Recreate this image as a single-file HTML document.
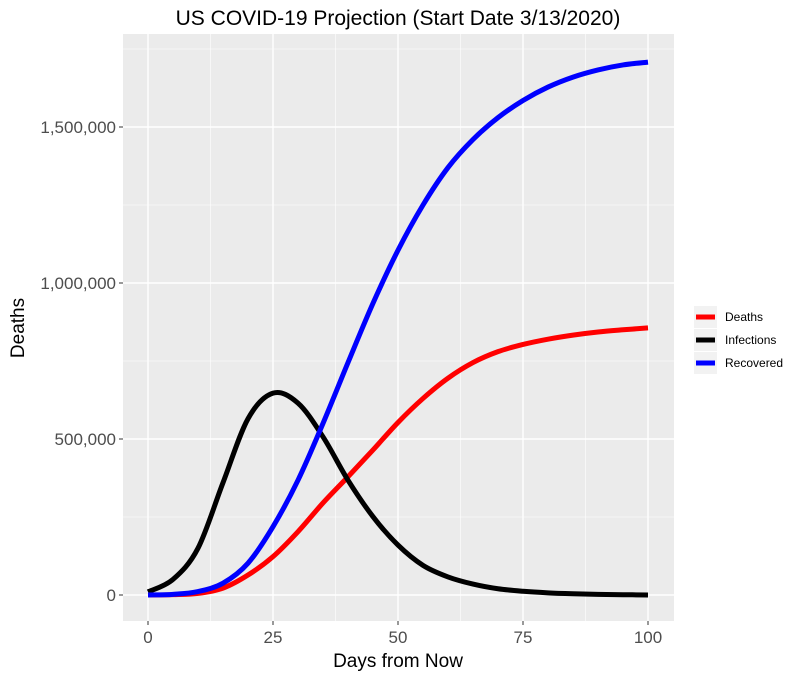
<!DOCTYPE html>
<html><head><meta charset="utf-8"><style>
body{margin:0;background:#fff;font-family:"Liberation Sans",Arial,sans-serif}
svg text{font-family:"Liberation Sans",Arial,sans-serif}
</style></head><body>
<svg id="chart" width="800" height="677">
<text x="398" y="25" text-anchor="middle" font-size="21" fill="#000">US COVID-19 Projection (Start Date 3/13/2020)</text>
<rect x="123" y="34" width="551" height="587" fill="#ebebeb"/>
<g id="grid"></g><g id="lines"></g><g id="axes"></g>
<text x="398" y="667" text-anchor="middle" font-size="19" fill="#000">Days from Now</text>
<text transform="translate(24,328) rotate(-90)" text-anchor="middle" font-size="19" fill="#000">Deaths</text>
<g id="legend"></g>
</svg>
<script>
const days=[0,5,10,15,20,25,30,35,40,45,50,55,60,65,70,75,80,85,90,95,100];
const deaths=[0,1000,5000,22000,64000,123000,203000,295000,379000,465000,553000,630000,695000,745000,780000,803000,820000,833000,843000,850000,856000];
const infections=[10000,50000,150000,360000,565000,647000,615000,507000,368000,251000,160000,95000,58000,35000,20000,12000,7000,4000,2000,1000,0];
const recovered=[0,2000,11000,38000,102000,219000,368000,550000,745000,935000,1105000,1250000,1370000,1460000,1530000,1585000,1628000,1660000,1683000,1699000,1708000];
const xTicks=[0,25,50,75,100];
const yTicks=[0,500000,1000000,1500000];
const yLabels=["0","500,000","1,000,000","1,500,000"];
const seriesNames=["Deaths","Infections","Recovered"];
const seriesColors=["#ff0000","#000000","#0000ff"];
const NS="http://www.w3.org/2000/svg";
const X=d=>148+d*5.0, Y=v=>595-v*156/500000;
function mk(tag,attrs,parent){const e=document.createElementNS(NS,tag);for(const k in attrs)e.setAttribute(k,attrs[k]);parent.appendChild(e);return e;}
function smooth(pts){let d='M'+pts[0][0]+','+pts[0][1];
 for(let i=0;i<pts.length-1;i++){const p0=pts[i-1]||pts[i],p1=pts[i],p2=pts[i+1],p3=pts[i+2]||p2;
  const c1=[p1[0]+(p2[0]-p0[0])/6,p1[1]+(p2[1]-p0[1])/6],c2=[p2[0]-(p3[0]-p1[0])/6,p2[1]-(p3[1]-p1[1])/6];
  d+='C'+c1+' '+c2+' '+p2;}return d;}
const grid=document.getElementById('grid'),axes=document.getElementById('axes'),lines=document.getElementById('lines');
for(let i=0;i<xTicks.length;i++){const x=X(xTicks[i]);
 const g=mk('line',{x1:x,x2:x,y1:34,y2:621,stroke:'#fff','stroke-width':1.4},grid);
 
 if(i<xTicks.length-1){const m=X((xTicks[i]+xTicks[i+1])/2);const mg=mk('line',{x1:m,x2:m,y1:34,y2:621,stroke:'#fff','stroke-width':0.6},grid);}
 mk('line',{x1:x,x2:x,y1:621,y2:625,stroke:'#333'},axes);
 const t=mk('text',{x:x,y:643,'text-anchor':'middle','font-size':17,fill:'#4d4d4d'},axes);t.textContent=xTicks[i];
 }
const minorY=[-250000,250000,750000,1250000,1750000];
minorY.forEach(v=>{const y=Y(v);if(y<34||y>621)return;const g=mk('line',{x1:123,x2:674,y1:y,y2:y,stroke:'#fff','stroke-width':0.6},grid);});
for(let i=0;i<yTicks.length;i++){const y=Y(yTicks[i]);
 const g=mk('line',{x1:123,x2:674,y1:y,y2:y,stroke:'#fff','stroke-width':1.4},grid);
 
 mk('line',{x1:119,x2:123,y1:y,y2:y,stroke:'#333'},axes);
 const t=mk('text',{x:116,y:y+6,'text-anchor':'end','font-size':17,fill:'#4d4d4d'},axes);t.textContent=yLabels[i];
 }
[deaths,infections,recovered].forEach((s,k)=>{
 const p=mk('path',{d:smooth(s.map((v,i)=>[X(days[i]),Y(v)])),fill:'none',stroke:seriesColors[k],'stroke-width':5,'stroke-linejoin':'round'},lines);
 });
const lg=document.getElementById('legend');
seriesNames.forEach((n,k)=>{const y=317+k*23;
 mk('rect',{x:694,y:y-11,width:23,height:22,fill:'#f2f2f2'},lg);
 const l=mk('line',{x1:696,x2:715,y1:y,y2:y,stroke:seriesColors[k],'stroke-width':5},lg);
 
 const t=mk('text',{x:725,y:y+4,'font-size':12,fill:'#000'},lg);t.textContent=n;
 });
</script>
</body></html>
